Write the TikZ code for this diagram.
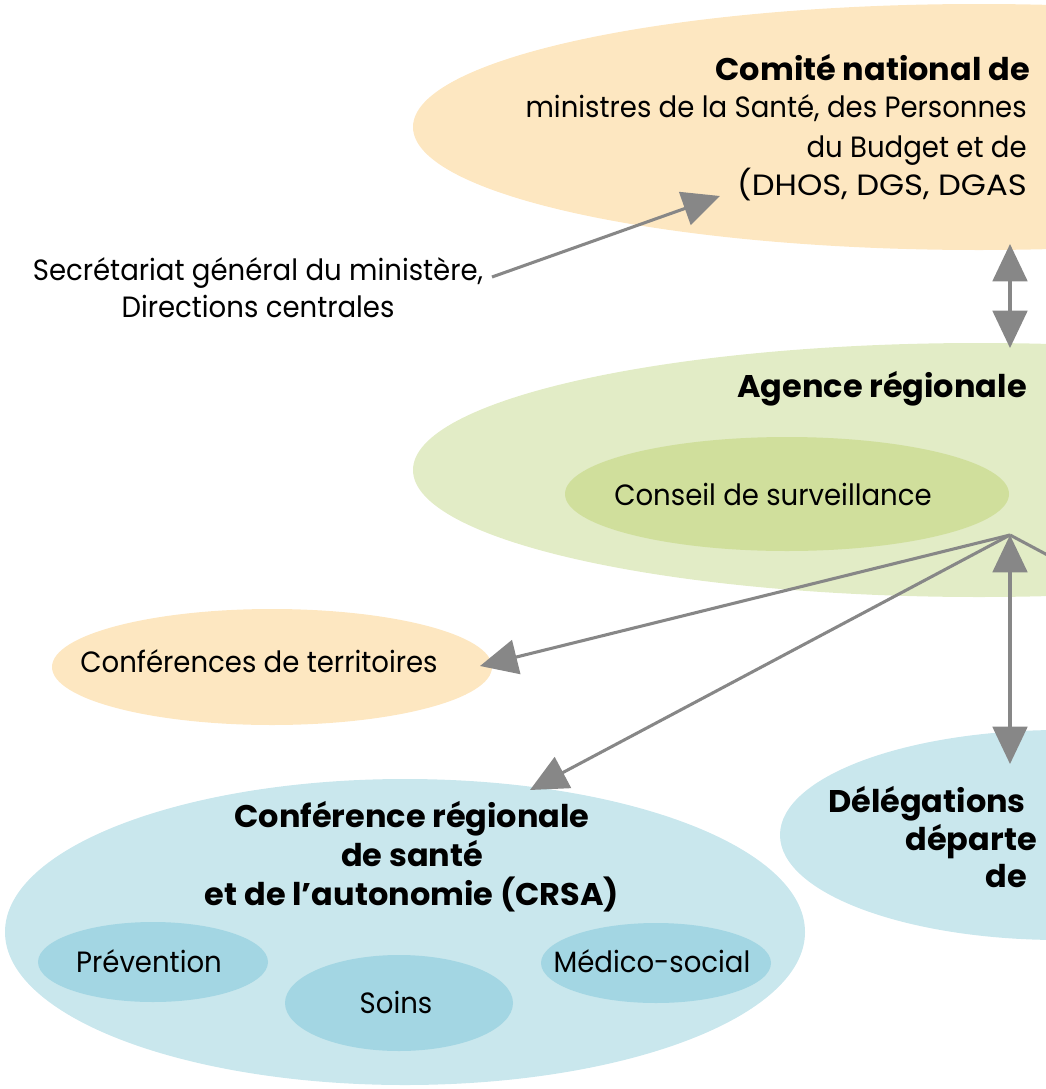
\documentclass[tikz,border=0pt]{standalone}
\usepackage{fontspec}
\usepackage{graphicx}
\setmainfont{Poppins}[FakeStretch=0.94]
\newfontfamily\headfont{Poppins}[FakeStretch=1.02]
\usetikzlibrary{shapes.geometric,arrows.meta}
\definecolor{peach}{HTML}{FDE7C1}
\definecolor{greenA}{HTML}{E2ECC6}
\definecolor{greenB}{HTML}{D0DF9C}
\definecolor{blueA}{HTML}{C9E7ED}
\definecolor{blueB}{HTML}{A3D6E3}
\definecolor{arrowgray}{HTML}{878787}
\begin{document}
\begin{tikzpicture}[x=0.75pt,y=-0.75pt,
  blob/.style={ellipse,inner sep=0pt,draw=none},
  txt/.style={inner sep=0pt,font=\fontsize{22}{27.75}\selectfont},
  btxt/.style={inner sep=0pt,font=\headfont\fontsize{23.5}{29}\selectfont\bfseries},
  conn/.style={draw=arrowgray,line width=2.3pt},
  tip/.style={-{Triangle[length=28pt,width=26pt]}},
  dtip/.style={{Triangle[length=28pt,width=26pt]}-{Triangle[length=28pt,width=26pt]}}]
\useasboundingbox (0,0) rectangle (1046,1089);
\clip (0,0) rectangle (1046,1089);
% ellipses
\node[blob,fill=peach,minimum width=849pt,minimum height=184.5pt] (comite) at (979,127) {};
\node[blob,fill=greenA,minimum width=849pt,minimum height=190.5pt] (ars) at (979,470) {};
\node[blob,fill=greenB,minimum width=333pt,minimum height=85.5pt] (conseil) at (787,494) {};
\node[blob,fill=peach,minimum width=330pt,minimum height=87pt] (conf) at (272,667) {};
\node[blob,fill=blueA,minimum width=600pt,minimum height=229.5pt] (crsa) at (405,932) {};
\node[blob,fill=blueB,minimum width=172.5pt,minimum height=60pt] (prev) at (153,962) {};
\node[blob,fill=blueB,minimum width=171pt,minimum height=72pt] (soins) at (399,1003) {};
\node[blob,fill=blueB,minimum width=172.5pt,minimum height=60pt] (medico) at (656,963) {};
\node[blob,fill=blueA,minimum width=420pt,minimum height=157.5pt] (deleg) at (1060,835) {};
% texts
\node[btxt,anchor=base east] (t1) at (1030,80) {Comité national de};
\node[txt,anchor=base east] (t2) at (1027,117) {ministres de la Santé, des Personnes};
\node[txt,anchor=base east] (t3) at (1027,157) {du Budget et de};
\node[txt,anchor=base east] (t4) at (1027,195) {\scalebox{1.17}[1]{(DHOS, DGS, DGAS}};
\node[txt,anchor=base,align=center] (sec) at (258,317) {Secrétariat général du ministère,\\Directions centrales};
\node[btxt,anchor=base east] (t5) at (1027,397) {Agence régionale};
\node[txt,anchor=base] (t6) at (773,505) {Conseil de surveillance};
\node[txt,anchor=base] (t7) at (259,672) {Conférences de territoires};
\node[btxt,anchor=base,align=center] (t8) at (412,905) {Conférence régionale\\de santé\\et de l’autonomie (CRSA)};
\node[txt,anchor=base] (t9) at (149,972) {Prévention};
\node[txt,anchor=base] (t10) at (396,1013) {Soins};
\node[txt,anchor=base] (t11) at (652,972) {Médico-social};
\node[btxt,anchor=base east] (t12) at (1026,812) {Délégations};
\node[btxt,anchor=base east] (t13) at (1037,850) {départe};
\node[btxt,anchor=base east] (t14) at (1027,887) {de};
% connector ends
\coordinate (secEnd) at (492,277);
\coordinate (comiteIn) at (720,196);
\coordinate (comiteBot) at (1010,244);
\coordinate (arsTop) at (1010,348);
\coordinate (hub) at (1010,535);
\coordinate (confEnd) at (480,666);
\coordinate (crsaEnd) at (530,790);
\coordinate (delegTop) at (1010,764);
\coordinate (offEdge) at (1070,567);
% connectors
\draw[conn,tip] (secEnd) -- (comiteIn);
\draw[conn,dtip] (comiteBot) -- (arsTop);
\draw[conn,tip] (hub) -- (confEnd);
\draw[conn,tip] (hub) -- (crsaEnd);
\draw[conn] (hub) -- (offEdge);
\draw[conn,dtip] (hub) -- (delegTop);
\end{tikzpicture}
\end{document}
